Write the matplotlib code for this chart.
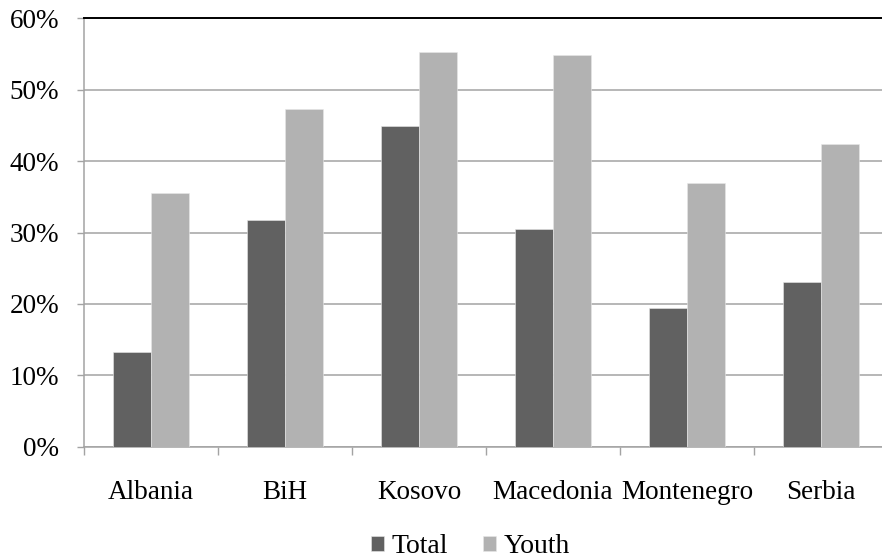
import numpy as np
import matplotlib.pyplot as plt
from matplotlib.ticker import FuncFormatter, FixedLocator

# Data (percent)
countries = ['Albania', 'BiH', 'Kosovo', 'Macedonia', 'Montenegro', 'Serbia']
total = [13.3, 31.7, 44.9, 30.5, 19.4, 23.0]
youth = [35.5, 47.3, 55.3, 54.9, 36.9, 42.4]

plt.rcParams['font.family'] = ['Liberation Serif', 'DejaVu Serif']

dark = '#616161'
light = '#b2b2b2'
grid_col = '#a3a3a3'

fig = plt.figure(figsize=(8.82, 5.58), dpi=100)
ax = fig.add_axes([84 / 882, 111.3 / 558, 804 / 882, 428.4 / 558])

x = np.arange(len(countries))
w = 0.286
ax.bar(x - w / 2, total, w, color=dark, edgecolor='#e8e8e8', linewidth=0.4, label='Total', zorder=3)
ax.bar(x + w / 2, youth, w, color=light, edgecolor='#e8e8e8', linewidth=0.4, label='Youth', zorder=3)

ax.set_xlim(-0.5, len(countries) - 0.5)
ax.set_ylim(0, 60)
ax.set_yticks(np.arange(0, 61, 10))
ax.yaxis.set_major_formatter(FuncFormatter(lambda v, p: f'{v:.0f}%'))
ax.yaxis.grid(True, color=grid_col, linewidth=1.1, zorder=0)

ax.set_xticks(x)
ax.set_xticklabels(countries)
ax.xaxis.set_minor_locator(FixedLocator(np.arange(-0.5, len(countries), 1.0)))
ax.tick_params(axis='x', which='major', length=0, pad=24, labelsize=19.5)
ax.tick_params(axis='x', which='minor', length=6, width=1, color=grid_col, direction='out')
ax.tick_params(axis='y', length=5, width=1, color=grid_col, pad=13, labelsize=19.5)

for side in ['left', 'bottom']:
    ax.spines[side].set_color(grid_col)
    ax.spines[side].set_linewidth(1.1)
ax.spines['right'].set_visible(False)
ax.spines['top'].set_color('black')
ax.spines['top'].set_linewidth(1.4)

fig.legend(loc='center', bbox_to_anchor=(0.533, 0.02), ncol=2, frameon=False,
           fontsize=20, handlelength=0.5, handleheight=0.5, handletextpad=0.25,
           columnspacing=1.25, borderpad=0)

fig.savefig('out.png', dpi=100)
